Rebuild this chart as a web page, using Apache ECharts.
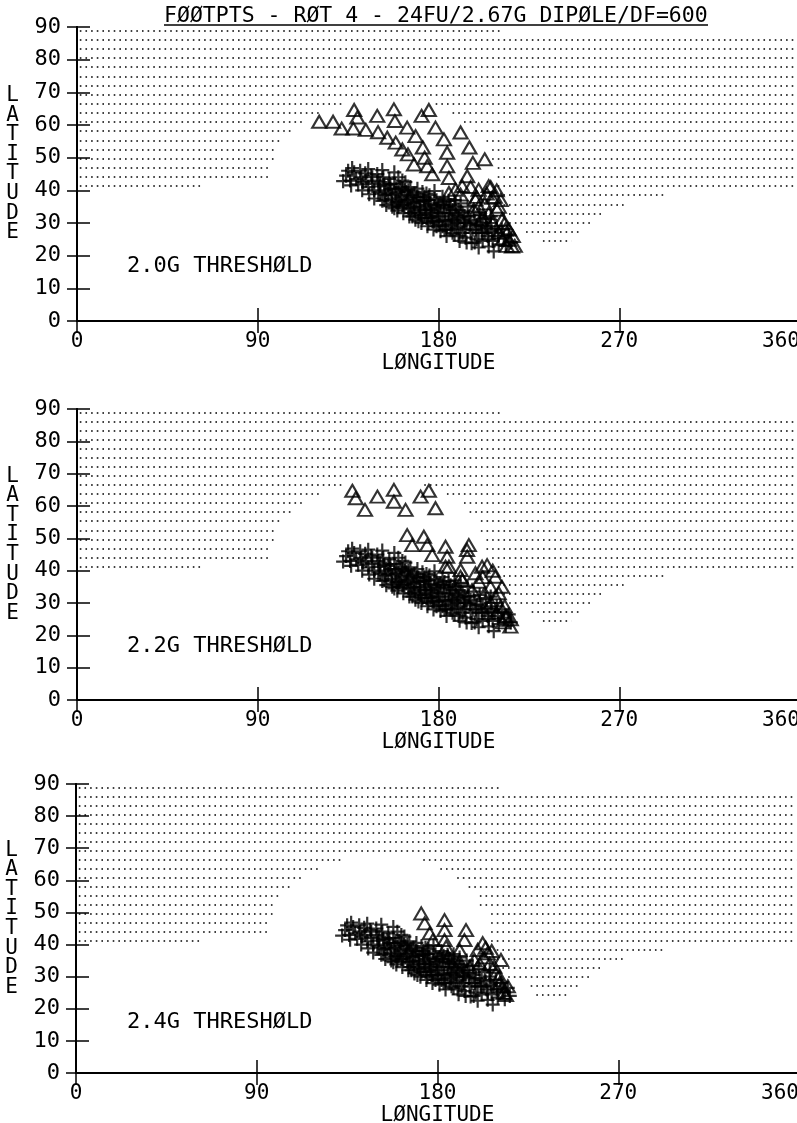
<!DOCTYPE html>
<html lang="en">
<head>
<meta charset="UTF-8">
<title>FØØTPTS - RØT 4</title>
<script src="https://cdn.jsdelivr.net/npm/echarts@6/dist/echarts.min.js"></script>
<style>
  html, body { margin: 0; padding: 0; background: #fff; }
  #main { width: 797px; height: 1123px; }
</style>
</head>
<body>
<div id="main"></div>
<script type="text/javascript">
// ---- data ----
var titleText = 'FØØTPTS - RØT 4 - 24FU/2.67G DIPØLE/DF=600';
var thresholds = ['2.0G THRESHØLD', '2.2G THRESHØLD', '2.4G THRESHØLD'];

// dotted background rows: [lat, lonStart, lonEnd]
var dotRows1 = [
    [88.9, 1.4, 212.3], [86.1, 1.4, 358.6], [83.3, 1.4, 358.6], [80.5, 1.4, 358.6],
    [77.7, 1.4, 358.6], [74.9, 1.4, 358.6], [72.1, 1.4, 358.6], [69.3, 1.4, 358.6],
    [66.5, 1.4, 133.6], [66.5, 178.6, 358.6],
    [63.7, 1.4, 122.3], [63.7, 187.0, 358.6],
    [60.9, 1.4, 113.9], [60.9, 192.7, 358.6],
    [58.1, 1.4, 108.3], [58.1, 198.3, 358.6],
    [55.3, 1.4, 102.7], [55.3, 203.9, 358.6],
    [52.5, 1.4, 99.8], [52.5, 206.7, 358.6],
    [49.7, 1.4, 99.8], [49.7, 206.7, 358.6],
    [46.9, 1.4, 97.0], [46.9, 209.5, 358.6],
    [44.1, 1.4, 97.0], [44.1, 209.5, 358.6],
    [41.3, 1.4, 63.3], [41.3, 209.5, 358.6],
    [38.5, 209.5, 293.2], [35.7, 212.3, 273.5], [32.9, 212.3, 262.3],
    [30.1, 215.2, 257.3], [27.3, 223.6, 251.7], [24.5, 232.0, 246.1]
];
var dotRows2 = [
    [88.9, 1.4, 212.3], [86.1, 1.4, 358.6], [83.3, 1.4, 358.6], [80.5, 1.4, 358.6],
    [77.7, 1.4, 358.6], [74.9, 1.4, 358.6], [72.1, 1.4, 358.6], [69.3, 1.4, 358.6],
    [66.5, 1.4, 133.6], [66.5, 172.9, 358.6],
    [63.7, 1.4, 122.3], [63.7, 184.2, 358.6],
    [60.9, 1.4, 113.9], [60.9, 192.7, 358.6],
    [58.1, 1.4, 108.3], [58.1, 195.5, 358.6],
    [55.3, 1.4, 102.7], [55.3, 201.1, 358.6],
    [52.5, 1.4, 99.8], [52.5, 201.1, 358.6],
    [49.7, 1.4, 99.8], [49.7, 203.9, 358.6],
    [46.9, 1.4, 97.0], [46.9, 203.9, 358.6],
    [44.1, 1.4, 97.0], [44.1, 206.7, 358.6],
    [41.3, 1.4, 63.3], [41.3, 206.7, 358.6],
    [38.5, 209.5, 293.2], [35.7, 212.3, 273.5], [32.9, 212.3, 262.3],
    [30.1, 215.2, 257.3], [27.3, 226.4, 251.7], [24.5, 232.0, 246.1]
];
var dotRows3 = [
    [88.9, 1.4, 212.3], [86.1, 1.4, 358.6], [83.3, 1.4, 358.6], [80.5, 1.4, 358.6],
    [77.7, 1.4, 358.6], [74.9, 1.4, 358.6], [72.1, 1.4, 358.6], [69.3, 1.4, 358.6],
    [66.5, 1.4, 133.6], [66.5, 172.9, 358.6],
    [63.7, 1.4, 122.3], [63.7, 181.4, 358.6],
    [60.9, 1.4, 113.9], [60.9, 189.8, 358.6],
    [58.1, 1.4, 108.3], [58.1, 195.5, 358.6],
    [55.3, 1.4, 102.7], [55.3, 201.1, 358.6],
    [52.5, 1.4, 99.8], [52.5, 201.1, 358.6],
    [49.7, 1.4, 99.8], [49.7, 206.7, 358.6],
    [46.9, 1.4, 97.0], [46.9, 206.7, 358.6],
    [44.1, 1.4, 97.0], [44.1, 206.7, 358.6],
    [41.3, 1.4, 63.3], [41.3, 206.7, 358.6],
    [38.5, 209.5, 293.2], [35.7, 209.5, 273.5], [32.9, 212.3, 262.3],
    [30.1, 215.2, 257.3], [27.3, 226.4, 251.7], [24.5, 229.2, 246.1]
];

// "+" footprints [lon, lat] (same band in all three panels)
var plusPts = [
    [132.5, 42.8], [134, 44.5], [135, 46], [136, 43], [136.5, 41.5], [137, 46.8],
    [138, 45.5], [139, 43.5], [140, 41.8], [141, 46], [141.5, 44], [142, 40], [142.5, 42.5],
    [143.5, 45.2], [144, 43], [145, 41], [145, 46.5], [145.5, 38.8], [146.5, 44.5], [147, 42], [147, 44], [148, 40], [148, 37.5],
    [149.5, 45], [150, 43], [150, 39.5], [150.5, 41.2], [151, 39], [151, 42.5], [152, 36.8], [152, 46.2], [152.5, 44], [153, 41.8],
    [153, 37], [153.5, 38.5], [154, 35.5], [154, 40], [155, 41.5], [155, 39],
    [155.5, 43.5], [156, 40.5], [156, 42], [156.5, 37.5], [157, 35], [157, 36], [157, 38.5], [158, 42], [158, 45.5], [158, 34.5],
    [158.5, 39], [159, 36.5], [159, 40.5], [159.5, 33.8], [160, 44], [160, 39.5], [160, 35], [160.5, 36.5],
    [161, 41], [161, 37], [161.5, 38], [162, 35.5], [162, 43], [162, 40.5], [162.5, 33], [163, 40], [163, 35.5], [163.5, 42.5],
    [164, 39.5], [164, 36], [164.5, 37], [165, 34.5], [165, 40], [165, 38.5], [165.5, 32], [166, 41], [166, 37.5], [166, 33],
    [166.5, 34.5],
    [167, 38.5], [167, 32], [167.5, 36], [168, 33.5], [168, 39], [168, 35], [168.5, 31], [169, 36.5], [169, 38], [169.5, 40.5],
    [170, 37.8], [170, 30.5], [170, 33], [170.5, 35], [171, 32.5], [171, 34], [171, 36.5], [171.5, 30], [172, 39.5], [172, 31.5],
    [172.5, 37],
    [173, 36.8], [173, 38], [173, 32.5], [173.5, 34], [174, 31.5], [174, 39], [174, 35.5], [174.5, 29], [175, 34.5], [175, 30],
    [175, 37], [175.5, 38.5], [176, 36], [176, 31.5], [176, 34], [176.5, 33], [177, 30.5], [177, 32], [177.5, 28], [178, 39.8],
    [178, 35], [178, 30.5], [178, 37.5],
    [179, 37], [179, 29], [179, 33.5], [179.5, 34.5], [180, 32], [180, 35.5], [180, 30.5], [180.5, 29.5], [181, 27.5], [181, 36],
    [181, 33], [182, 38], [182, 31], [182, 29], [182.5, 35.5], [183, 33], [183, 36.5], [183, 28], [183.5, 30.5], [184, 28],
    [184, 35], [184, 26],
    [185, 36.8], [185, 30.5], [185, 33], [185.5, 34.5], [186, 32], [186, 35.5], [186, 28], [186.5, 29.5], [187, 27], [187, 34],
    [187, 31], [188, 37], [188, 31], [188, 26.5], [188.5, 35], [189, 32.5], [189, 28.5], [189.5, 30], [190, 26], [190, 34],
    [190, 31.5], [190.5, 24.5],
    [191, 36], [191, 29], [191, 33.5], [192, 33], [192, 27], [192.5, 30.5], [193, 28], [193, 32], [193, 30], [193.5, 25.5],
    [194, 30], [194, 24], [194.5, 35], [195, 32], [195.5, 29.5], [196, 27], [196, 31], [196.5, 23.8],
    [197, 28], [197.5, 33.5], [198, 30.5], [198, 24], [198.5, 28], [199, 25], [199, 29.5], [200, 22.5], [200, 27], [200.5, 32.5],
    [201, 29.5], [201.5, 27], [202, 24.5], [202, 29],
    [203, 27], [203.5, 31.5], [204, 28.5], [204.5, 26], [205, 22.8], [205, 25], [206, 30], [206, 32], [206.5, 27.5], [207, 24.5],
    [207.5, 21.3], [208, 27], [209, 29], [209.5, 26], [210, 23.5],
    [211.5, 28], [212.5, 25.5], [213.5, 23], [215, 26.5], [216, 24]
];

// triangle footprints [lon, lat]
var triPts1 = [
    [120.6, 61.0], [127.5, 61.0], [131.8, 58.9], [138.0, 64.6], [139.6, 62.3], [137.6, 58.9], [143.8, 58.5],
    [149.5, 62.8], [149.9, 57.8], [154.5, 56.1], [157.8, 64.8], [158.3, 61.2], [158.7, 54.6], [162.0, 52.5],
    [164.4, 59.2], [164.8, 51.0], [167.8, 47.9], [168.6, 56.6], [171.6, 62.8], [172.2, 53.1], [173.1, 50.0],
    [175.2, 64.6], [174.4, 47.4], [178.5, 59.2], [176.9, 44.9], [182.7, 55.6], [184.3, 51.5], [184.3, 47.4],
    [185.2, 43.8], [191.0, 57.7], [191.8, 41.3], [195.4, 53.1], [197.1, 48.4], [203.0, 49.5], [194.3, 44.3],
    [191.0, 38.7], [205.0, 41.3], [200.0, 40.2], [198.4, 37.2], [197.6, 34.1], [206.7, 37.7], [209.1, 34.1],
    [211.6, 31.0], [213.3, 28.0], [215.0, 24.9], [216.6, 22.8], [201.7, 31.0], [188.5, 40.2], [185.2, 39.2],
    [203, 36], [205, 33], [207, 30], [210, 27], [212, 25], [214, 23], [200, 35], [202, 32], [208, 38],
    [210, 35], [213, 30], [215, 28], [217, 26], [218, 23], [204, 39], [206, 41], [209, 40], [211, 37],
    [199, 38], [196, 41]
];
var triPts2 = [
    [137.1, 64.7], [138.8, 62.4], [143.4, 58.8], [149.6, 62.9], [157.8, 65.0], [157.8, 61.3], [163.6, 58.8],
    [171.1, 62.9], [175.2, 64.7], [178.5, 59.3],
    [164.4, 51.0], [166.9, 47.9], [172.7, 50.5], [174.4, 47.9], [176.9, 44.8], [183.5, 47.4], [184.3, 44.3],
    [185.2, 41.2], [191.0, 40.2], [191.8, 37.1], [194.2, 46.4], [195.1, 47.9], [194.3, 44.3], [183.5, 41.2],
    [191.0, 38.1], [201.7, 41.2], [204.2, 41.7], [198.4, 39.2], [200.0, 36.6], [196.7, 34.0], [205.9, 35.0],
    [208.3, 31.9], [210.8, 28.8], [213.3, 25.8], [215.8, 22.7], [211.6, 35.0], [208.3, 38.1],
    [203, 33], [206, 30], [209, 27], [212, 24], [214, 26], [216, 25], [202, 38], [207, 40], [210, 33], [213, 29]
];
var triPts3 = [
    [171.9, 49.7], [173.6, 46.6], [176.1, 43.5], [177.7, 41.4], [183.5, 47.6], [183.5, 44.5], [184.3, 39.3],
    [183.5, 41.4], [194.2, 44.5], [193.4, 41.4], [191.0, 38.3], [202.5, 40.4], [200.0, 38.3], [198.4, 35.2],
    [205.0, 37.3], [208.3, 33.1], [210.8, 30.0], [212.5, 26.9], [214.1, 24.3], [211.6, 35.2], [185.2, 36.2],
    [191.0, 34.7], [196.0, 33.1],
    [203, 36], [206, 34], [209, 31], [211, 28], [213, 25], [204, 39], [207, 38], [201, 34], [215, 27]
];

var dotRows = [dotRows1, dotRows2, dotRows3];
var triPts = [triPts1, triPts2, triPts3];

// ---- layout ----
var MONO = "'DejaVu Sans Mono', monospace";
var panels = [
    { left: 77, top: 27, height: 294, thrY: 267 },
    { left: 77, top: 409, height: 291, thrY: 647 },
    { left: 76, top: 784, height: 289, thrY: 1023 }
];

var myChart = echarts.init(document.getElementById('main'));

var grid = [], xAxis = [], yAxis = [], series = [], graphic = [];

panels.forEach(function (p, i) {
    grid.push({ left: p.left, top: p.top, width: 723, height: p.height, outerBoundsMode: 'none' });

    // bottom (labelled) and top (frame) longitude axes
    xAxis.push({
        gridIndex: i, type: 'value', min: 0, max: 360, interval: 90, position: 'bottom',
        name: 'LØNGITUDE', nameLocation: 'middle', nameGap: 32,
        nameTextStyle: { color: '#000', fontFamily: MONO, fontSize: 21 },
        axisLine: { lineStyle: { color: '#000', width: 2 } },
        axisTick: { inside: true, length: 13, lineStyle: { color: '#000', width: 1.5 } },
        axisLabel: { color: '#000', fontFamily: MONO, fontSize: 21, margin: 10, alignMaxLabel: 'right' },
        splitLine: { show: false }
    });
    xAxis.push({
        gridIndex: i, type: 'value', min: 0, max: 360, interval: 90, position: 'top',
        axisLine: { lineStyle: { color: '#000', width: 2 } },
        axisTick: { inside: true, length: 12, lineStyle: { color: '#000', width: 1.5 } },
        axisLabel: { show: false },
        splitLine: { show: false }
    });

    // left (labelled) and right (frame) latitude axes; trailing blank line lifts the stacked name
    yAxis.push({
        gridIndex: i, type: 'value', min: 0, max: 90, interval: 10, position: 'left',
        name: 'L\nA\nT\nI\nT\nU\nD\nE\n ', nameLocation: 'middle', nameRotate: 0, nameGap: 58,
        nameTextStyle: { color: '#000', fontFamily: MONO, fontSize: 21, lineHeight: 19.6 },
        axisLine: { lineStyle: { color: '#000', width: 2 } },
        axisTick: { inside: true, length: 13, lineStyle: { color: '#000', width: 1.5 } },
        axisLabel: { color: '#000', fontFamily: MONO, fontSize: 22, margin: 16 },
        splitLine: { show: false }
    });
    yAxis.push({
        gridIndex: i, type: 'value', min: 0, max: 90, interval: 10, position: 'right',
        axisLine: { lineStyle: { color: '#000', width: 2 } },
        axisTick: { inside: true, length: 10, lineStyle: { color: '#000', width: 1.5 } },
        axisLabel: { show: false },
        splitLine: { show: false }
    });

    // dotted background rows
    series.push({
        type: 'lines', coordinateSystem: 'cartesian2d',
        xAxisIndex: 2 * i, yAxisIndex: 2 * i, silent: true,
        lineStyle: { color: '#000', width: 1.6, type: [1.6, 4.05], opacity: 1, curveness: 0 },
        data: dotRows[i].map(function (r) {
            return { coords: [[r[1], r[0]], [r[2], r[0]]] };
        })
    });
    // plus footprints
    series.push({
        type: 'scatter', xAxisIndex: 2 * i, yAxisIndex: 2 * i, silent: true,
        symbol: 'path://M6 0V12M0 6H12', symbolSize: 14,
        itemStyle: { color: 'rgba(0,0,0,0)', borderColor: '#000', borderWidth: 2.2 },
        emphasis: { disabled: true },
        data: plusPts
    });
    // triangle footprints
    series.push({
        type: 'scatter', xAxisIndex: 2 * i, yAxisIndex: 2 * i, silent: true,
        symbol: 'triangle', symbolSize: [14, 12],
        itemStyle: { color: 'rgba(0,0,0,0)', borderColor: '#000', borderWidth: 2.1 },
        emphasis: { disabled: true },
        data: triPts[i]
    });

    graphic.push({
        type: 'text', left: 127, top: p.thrY - 12,
        style: { text: thresholds[i], fill: '#000', font: '22px ' + MONO }
    });
});

// plot title with underline
graphic.push({
    type: 'text', left: 164, top: 5,
    style: { text: titleText, fill: '#000', font: '21.5px ' + MONO }
});
graphic.push({
    type: 'line', shape: { x1: 164, y1: 25, x2: 708, y2: 25 },
    style: { stroke: '#000', lineWidth: 1.5 }
});

myChart.setOption({
    animation: false,
    backgroundColor: '#fff',
    grid: grid,
    xAxis: xAxis,
    yAxis: yAxis,
    series: series,
    graphic: graphic
});
</script>
</body>
</html>
